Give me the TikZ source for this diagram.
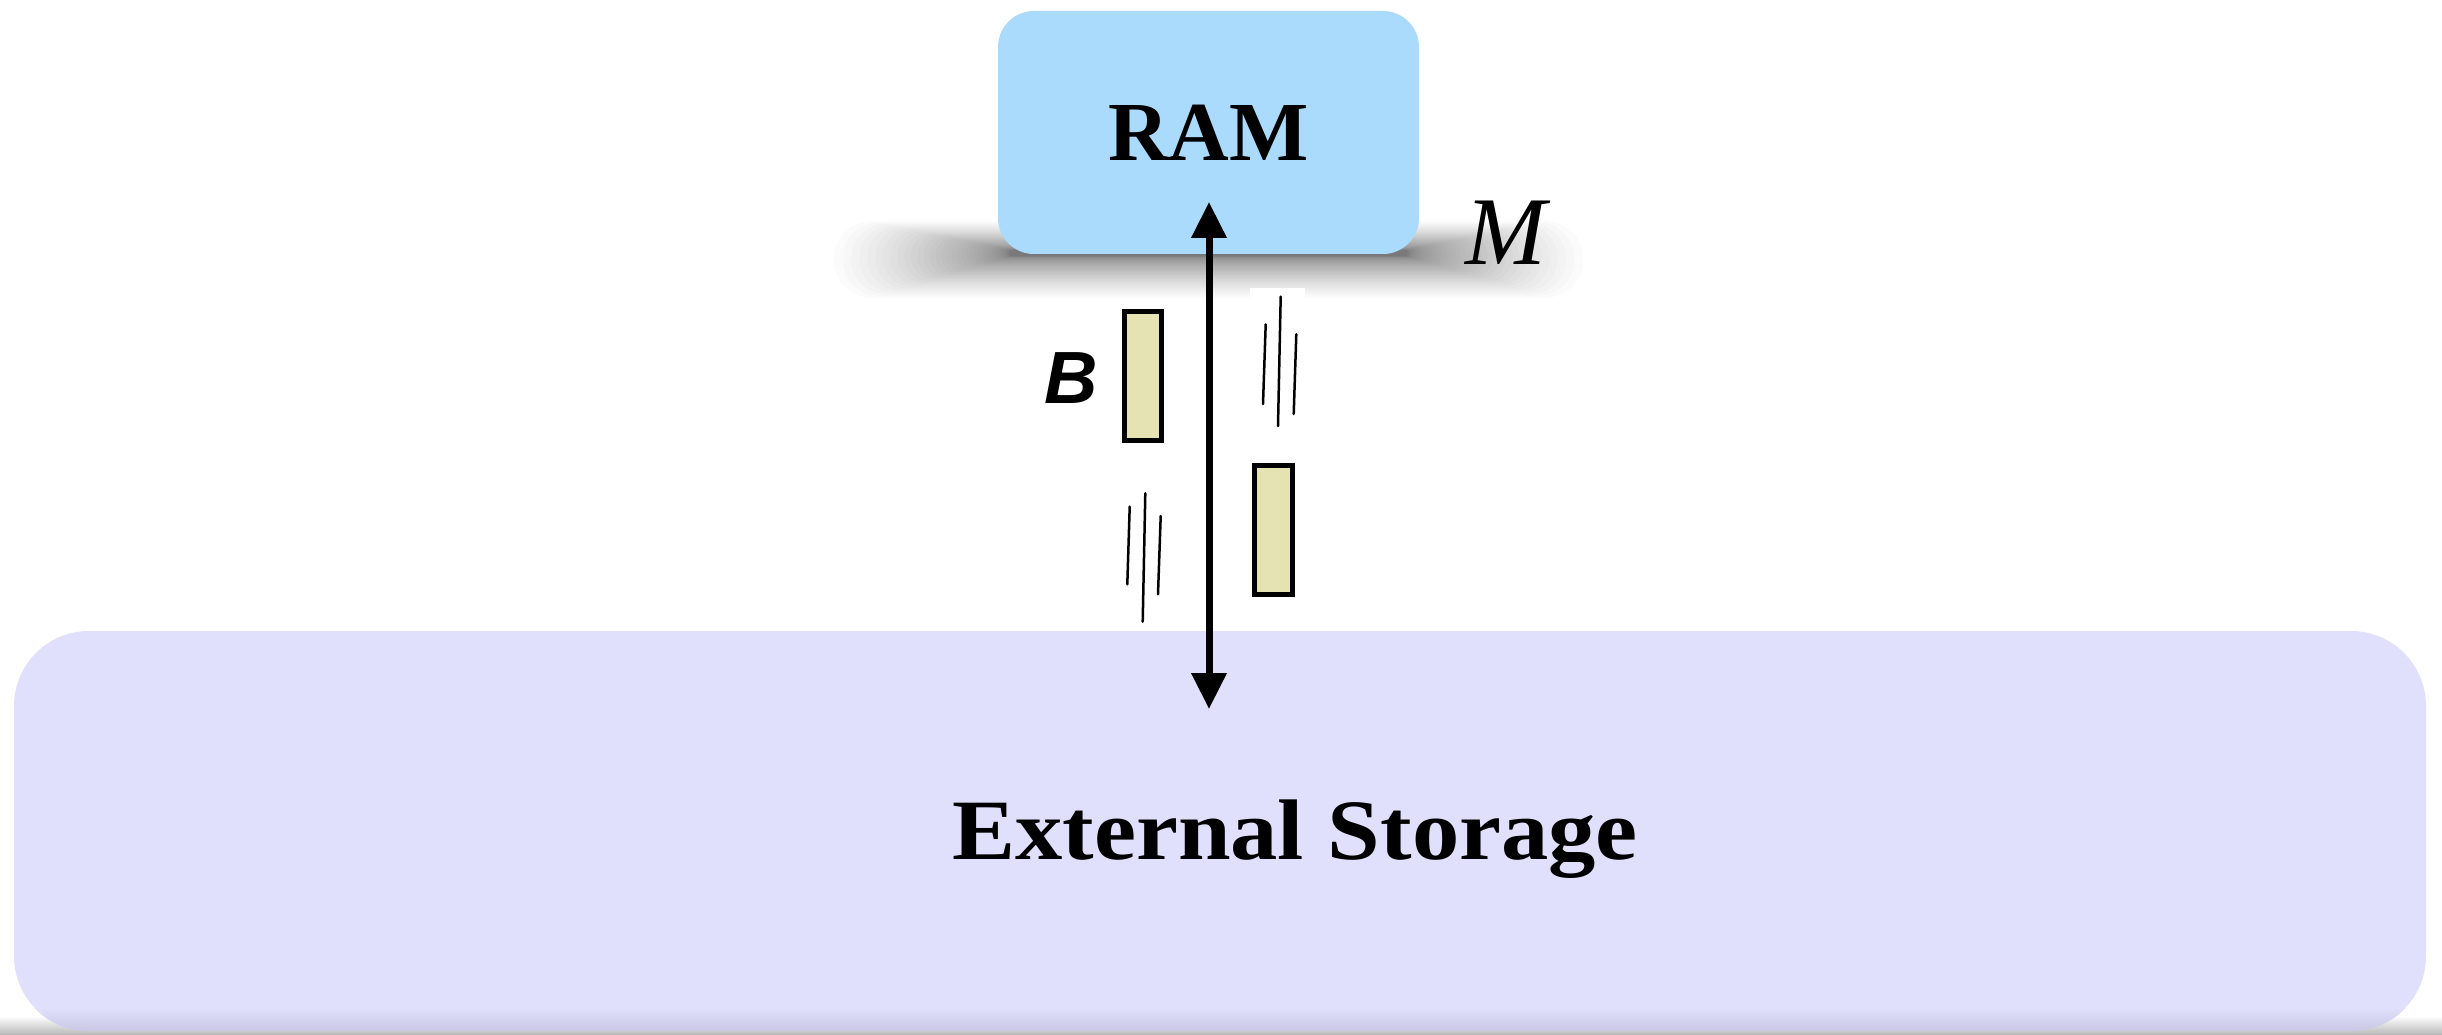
\documentclass[tikz,border=0pt]{standalone}
\usepackage{fontspec}
\setmainfont{Liberation Serif}
\newfontfamily\hsans{Liberation Sans}
\usetikzlibrary{arrows.meta}
\definecolor{ramblue}{RGB}{170,219,252}
\definecolor{extlav}{RGB}{224,224,252}
\definecolor{extdark}{RGB}{200,200,228}
\definecolor{blockyel}{RGB}{229,227,178}
\tikzset{
  rambox/.style={rectangle, rounded corners=36pt, fill=ramblue, draw=none,
    minimum width=421pt, minimum height=243pt, inner sep=0pt,
    font=\bfseries\fontsize{84}{90}\selectfont},
  extbox/.style={rectangle, rounded corners=75pt, fill=extlav, draw=none,
    minimum width=2412pt, minimum height=400pt, inner sep=0pt},
  extlabelstyle/.style={font=\bfseries\fontsize{86}{90}\selectfont, inner sep=0pt, xscale=1.1},
  blockbox/.style={rectangle, draw=black, line width=5pt, fill=blockyel,
    minimum width=37pt, minimum height=129pt, inner sep=0pt},
  dataflow/.style={line width=7pt, {Triangle[length=36pt,width=34pt]}-{Triangle[length=36pt,width=34pt]}},
  motion/.style={line width=2.5pt, line cap=round},
  shadowlayer/.style={fill=black, opacity=0.015},
  blabelstyle/.style={font=\hsans\bfseries\itshape\fontsize{74}{80}\selectfont, inner sep=0pt},
  mlabelstyle/.style={font=\itshape\fontsize{97}{100}\selectfont, inner sep=0pt}
}
\begin{document}
\begin{tikzpicture}[x=1pt,y=-1pt]
\useasboundingbox (0,0) rectangle (2442,1035);
\fill[white] (0,0) rectangle (2442,1035);
% shadow under external storage
\shade[top color=white, bottom color=black!28] (0,1016) rectangle (2442,1035);
% soft shadow under RAM (stacked translucent layers)
\foreach \i in {1,...,40}{
  \fill[shadowlayer, rounded corners={2pt+0.022pt*\i*\i}] (1010-0.11*\i*\i,250-0.018*\i*\i) rectangle (1407+0.11*\i*\i,256+0.026*\i*\i);
}
% External storage
\node[extbox] (ext) at (1220,831) {};
\begin{scope}
  \clip[rounded corners=75pt] (ext.north west) rectangle (ext.south east);
  \shade[top color=extlav, bottom color=extdark] (14,1008) rectangle (2426,1031);
\end{scope}
\node[extlabelstyle, anchor=base] (extlabel) at (1295,859) {External Storage};
% RAM
\node[rambox] (ram) at (1208.5,132.5) {RAM};
\node[mlabelstyle] (mlabel) at (1506,233) {M};
% white patch behind motion lines
\fill[white] (1250,288) rectangle (1305,305);
% blocks
\node[blockbox] (b1) at (1143,376) {};
\node[blockbox, minimum width=38pt] (b2) at (1273.5,530) {};
\node[blabelstyle] (blabel) at (1071,378) {B};
% arrow
\coordinate (atop) at (1209,202);
\coordinate (abot) at (1209,709);
\draw[dataflow] (atop) -- (abot);
% motion lines
\draw[motion] (1265.7,324.3) -- (1263,404);
\draw[motion] (1280.7,296.7) -- (1278,426);
\draw[motion] (1296.3,334.3) -- (1293.7,414);
\draw[motion] (1129.7,506.7) -- (1127.3,584.3);
\draw[motion] (1145.3,493.3) -- (1142.7,621.7);
\draw[motion] (1160.7,516) -- (1158,594.3);
\end{tikzpicture}
\end{document}
